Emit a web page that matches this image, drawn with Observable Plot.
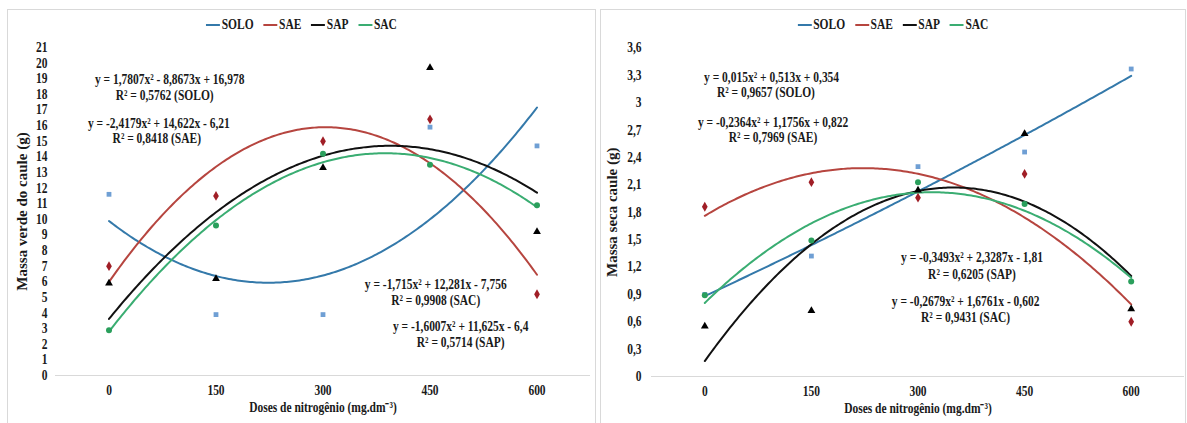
<!DOCTYPE html>
<html>
<head>
<meta charset="utf-8">
<script src="https://cdn.jsdelivr.net/npm/d3@7"></script>
<script src="https://cdn.jsdelivr.net/npm/@observablehq/plot@0.6"></script>
<style>
  html, body { margin: 0; padding: 0; background: #fff; }
  body { width: 1187px; height: 423px; overflow: hidden; position: relative; font-family: "Liberation Serif", "Times New Roman", serif; }
  .panel { position: absolute; border: 1px solid #d9d9d9; box-sizing: border-box; pointer-events: none; z-index: 3; }
  .chart { position: absolute; top: 0; }
  .legend { position: absolute; height: 16px; display: flex; justify-content: center; align-items: center;
            transform: scaleX(0.82); transform-origin: center; font-size: 14px; font-weight: bold; color: #1a1a1a; line-height: 16px; }
  .item { display: flex; align-items: center; margin: 0 6px; }
  .ln { display: inline-block; width: 17px; height: 2.5px; margin-right: 2px; }
</style>
</head>
<body>
<div class="panel" style="left:7px;top:9px;width:589px;height:440px"></div>
<div class="panel" style="left:600px;top:9px;width:586px;height:440px"></div>
<div id="legL" class="legend" style="left:7px;width:589px;top:17px"></div>
<div id="legR" class="legend" style="left:600px;width:586px;top:17px"></div>
<div id="chartL" class="chart" style="left:0px"></div>
<div id="chartR" class="chart" style="left:595px"></div>
<script>
// ---- data ----
const doses = [0, 150, 300, 450, 600];
const seriesNames = ["SOLO", "SAE", "SAP", "SAC"];
const lineColors = ["#3479aa", "#b6453f", "#111111", "#3aad72"];
const markerColors = ["#6f9fd4", "#a01e26", "#000000", "#2a9f5c"];
const markerSymbols = ["square", "diamond", "triangle", "circle"];

// Massa verde do caule (g)
const verdeSOLO = [11.6, 3.9, 3.9, 15.9, 14.7];
const verdeSAE = [7.0, 11.5, 15.0, 16.4, 5.2];
const verdeSAP = [5.9, 6.2, 13.3, 19.7, 9.2];
const verdeSAC = [2.9, 9.6, 14.2, 13.5, 10.9];
const verdeCoefs = [[1.7807, -8.8673, 16.978], [-2.4179, 14.622, -6.21], [-1.6007, 11.625, -6.4], [-1.715, 12.281, -7.756]];
const verdeTicks = [0,1,2,3,4,5,6,7,8,9,10,11,12,13,14,15,16,17,18,19,20,21];
const verdeEqTexts = ["y = 1,7807x² - 8,8673x + 16,978", "R² = 0,5762 (SOLO)",
                      "y = -2,4179x² + 14,622x - 6,21", "R² = 0,8418 (SAE)",
                      "y = -1,715x² + 12,281x - 7,756", "R² = 0,9908 (SAC)",
                      "y = -1,6007x² + 11,625x - 6,4", "R² = 0,5714 (SAP)"];
const verdeEqDose = [85, 78, 70, 67, 458, 458, 493, 493];
const verdeEqValue = [18.95, 17.9, 16.13, 15.17, 5.83, 4.8, 3.14, 2.11];

// Massa seca caule (g)
const secaSOLO = [0.9, 1.32, 2.3, 2.46, 3.37];
const secaSAE = [1.86, 2.13, 1.96, 2.22, 0.6];
const secaSAP = [0.55, 0.72, 2.04, 2.66, 0.74];
const secaSAC = [0.89, 1.49, 2.13, 1.89, 1.04];
const secaCoefs = [[0.015, 0.513, 0.354], [-0.2364, 1.1756, 0.822], [-0.3493, 2.3287, -1.81], [-0.2679, 1.6761, -0.602]];
const secaTicks = [0, 0.3, 0.6, 0.9, 1.2, 1.5, 1.8, 2.1, 2.4, 2.7, 3, 3.3, 3.6];
const secaEqTexts = ["y = 0,015x² + 0,513x + 0,354", "R² = 0,9657 (SOLO)",
                     "y = -0,2364x² + 1,1756x + 0,822", "R² = 0,7969 (SAE)",
                     "y = -0,3493x² + 2,3287x - 1,81", "R² = 0,6205 (SAP)",
                     "y = -0,2679x² + 1,6761x - 0,602", "R² = 0,9431 (SAC)"];
const secaEqDose = [94, 86, 96, 96, 376, 376, 367, 367];
const secaEqValue = [3.28, 3.11, 2.78, 2.62, 1.30, 1.12, 0.82, 0.65];

const xTitle = "Doses de nitrogênio (mg.dm⁻³)";

function buildLegend(id) {
  const el = document.getElementById(id);
  seriesNames.forEach((s, i) => {
    const it = document.createElement("span");
    it.className = "item";
    const ln = document.createElement("span");
    ln.className = "ln";
    ln.style.background = lineColors[i];
    it.appendChild(ln);
    it.appendChild(document.createTextNode(s));
    el.appendChild(it);
  });
}

function buildChart(cfg) {
  const pts = [];
  cfg.values.forEach((arr, i) => arr.forEach((v, j) => pts.push({ serie: seriesNames[i], dose: doses[j], value: v })));
  const curves = [];
  cfg.coefs.forEach(([a, b, c], i) => {
    for (let k = 0; k <= 200; k++) {
      const t = 1 + 4 * k / 200; // x = 1..5 (category index used by the fits)
      curves.push({ serie: seriesNames[i], dose: (t - 1) * 150, value: a * t * t + b * t + c });
    }
  });
  const eqs = cfg.eqTexts.map((t, i) => ({ text: t, dose: cfg.eqDose[i], value: cfg.eqValue[i] }));
  const marks = [Plot.ruleY([0], { stroke: "#d9d9d9", strokeWidth: 1.2 })];
  seriesNames.forEach((s, i) => {
    marks.push(Plot.line(curves.filter(d => d.serie === s), { x: "dose", y: "value", stroke: lineColors[i], strokeWidth: 2, curve: "linear" }));
  });
  const radii = { square: 2.7, diamond: 3.0, triangle: 2.9, circle: 3.0 };
  seriesNames.forEach((s, i) => {
    marks.push(Plot.dot(pts.filter(d => d.serie === s), { x: "dose", y: "value", symbol: markerSymbols[i], fill: markerColors[i], stroke: "none", r: radii[markerSymbols[i]] }));
  });
  marks.push(Plot.text(eqs, { x: "dose", y: "value", text: "text", fontSize: 14, fontWeight: "bold", fill: "#1a1a1a" }));
  marks.push(Plot.text([cfg.yTitle], { frameAnchor: "left", textAnchor: "middle", lineAnchor: "middle", rotate: -90, dx: cfg.titleDx, fontSize: 15, fontWeight: "bold", fill: "#1a1a1a", className: "ytitle" }));
  marks.push(Plot.text([xTitle], { frameAnchor: "bottom", dy: 36, fontSize: 14, fontWeight: "bold", fill: "#1a1a1a" }));
  return Plot.plot({
    width: cfg.width, height: 423,
    marginLeft: cfg.marginLeft, marginRight: cfg.marginRight, marginTop: cfg.marginTop, marginBottom: cfg.marginBottom,
    style: { fontFamily: "'Liberation Serif', 'Times New Roman', serif", fontSize: "14px", fontWeight: "bold", color: "#1a1a1a", background: "transparent", overflow: "visible" },
    x: { domain: [-75, 675], ticks: doses, tickSize: 0, tickPadding: 10, label: null, tickFormat: d => String(d) },
    y: { domain: [0, cfg.yMax], ticks: cfg.ticks, tickSize: 0, tickPadding: cfg.yPad, label: null, tickFormat: cfg.tickFmt },
    marks
  });
}

buildLegend("legL");
buildLegend("legR");

const chartL = buildChart({
  values: [verdeSOLO, verdeSAE, verdeSAP, verdeSAC], coefs: verdeCoefs, ticks: verdeTicks, yMax: 21,
  tickFmt: d => String(d), eqTexts: verdeEqTexts, eqDose: verdeEqDose, eqValue: verdeEqValue,
  yTitle: "Massa verde do caule (g)", width: 595, marginLeft: 55, marginRight: 5, marginTop: 47, marginBottom: 48,
  titleDx: -33, yPad: 8
});
const chartR = buildChart({
  values: [secaSOLO, secaSAE, secaSAP, secaSAC], coefs: secaCoefs, ticks: secaTicks, yMax: 3.6,
  tickFmt: d => String(+d.toFixed(1)).replace(".", ","), eqTexts: secaEqTexts, eqDose: secaEqDose, eqValue: secaEqValue,
  yTitle: "Massa seca caule (g)", width: 592, marginLeft: 56, marginRight: 3, marginTop: 47.5, marginBottom: 47,
  titleDx: -39, yPad: 10
});
document.getElementById("chartL").appendChild(chartL);
document.getElementById("chartR").appendChild(chartR);

function squeeze(svg, f) {
  svg.querySelectorAll("text").forEach(t => {
    if (t.closest(".ytitle")) return;
    const L = t.getComputedTextLength();
    if (L > 0) {
      t.setAttribute("textLength", (L * f).toFixed(2));
      t.setAttribute("lengthAdjust", "spacingAndGlyphs");
    }
  });
}
squeeze(chartL, 0.82);
squeeze(chartR, 0.82);
</script>
</body>
</html>
